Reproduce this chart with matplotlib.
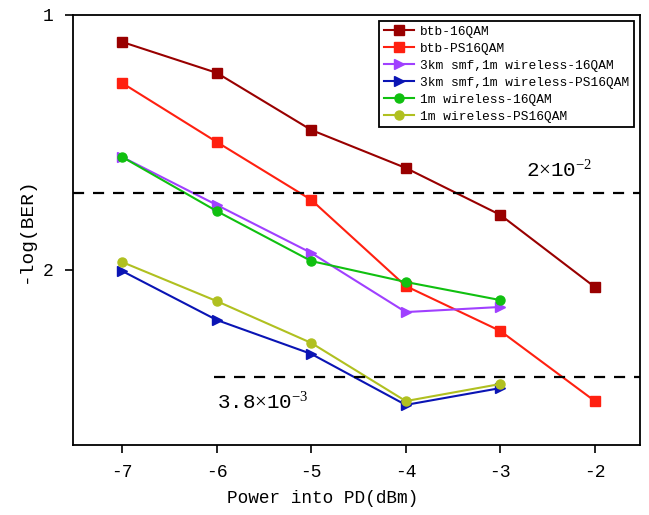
import matplotlib
matplotlib.use("Agg")
import matplotlib.pyplot as plt

plt.rcParams['font.family'] = ['Liberation Mono', 'DejaVu Sans Mono']
plt.rcParams['axes.unicode_minus'] = False
plt.rcParams['mathtext.fontset'] = 'custom'
plt.rcParams['mathtext.rm'] = 'Liberation Serif'
plt.rcParams['mathtext.it'] = 'Liberation Serif:italic'

x = [-7, -6, -5, -4, -3, -2]
x5 = [-7, -6, -5, -4, -3]
btb_16 = [1.106, 1.227, 1.451, 1.600, 1.784, 2.067]
btb_ps16 = [1.267, 1.498, 1.725, 2.063, 2.239, 2.514]
smf_16 = [1.557, 1.745, 1.933, 2.165, 2.145]
smf_ps16 = [2.004, 2.196, 2.329, 2.529, 2.463]
wl_16 = [1.557, 1.769, 1.965, 2.047, 2.118]
wl_ps16 = [1.969, 2.122, 2.286, 2.514, 2.447]

labels = ['btb-16QAM', 'btb-PS16QAM', '3km smf,1m wireless-16QAM',
          '3km smf,1m wireless-PS16QAM', '1m wireless-16QAM', '1m wireless-PS16QAM']
thr_high = 1.699  # 2e-2
thr_low = 2.42    # 3.8e-3

fig = plt.figure(figsize=(6.49, 5.15), dpi=100)
ax = fig.add_axes([0.1125, 0.136, 0.874, 0.835])

ax.plot(x, btb_16, color='#990000', marker='s', ms=6.5, lw=1.5, label=labels[0])
ax.plot(x, btb_ps16, color='#ff2010', marker='s', ms=6.5, lw=1.5, label=labels[1])
ax.plot(x5, smf_16, color='#a040ff', marker='>', ms=7.5, lw=1.5, label=labels[2])
ax.plot(x5, smf_ps16, color='#0a14b4', marker='>', ms=7.5, lw=1.5, label=labels[3])
ax.plot(x5, wl_16, color='#10c010', marker='o', ms=6.5, lw=1.5, label=labels[4])
ax.plot(x5, wl_ps16, color='#b0c020', marker='o', ms=6.5, lw=1.5, label=labels[5])

ax.axhline(thr_high, color='black', ls=(0, (5, 4)), lw=1.6)
ax.plot([-6.03, -1.52], [thr_low, thr_low], color='black', ls=(0, (5, 4)), lw=1.6)
ax.text(-2.73, thr_high - 0.09, r'2$\times$10$^{-2}$', fontsize=15, ha='left', va='center')
ax.text(-6.0, thr_low + 0.1, r'3.8$\times$10$^{-3}$', fontsize=15, ha='left', va='center')

ax.set_xlim(-7.52, -1.52)
ax.set_ylim(2.686, 1.0)
ax.set_xticks([-7, -6, -5, -4, -3, -2])
ax.set_yticks([1, 2])
ax.tick_params(direction='out', length=6, width=1.2, labelsize=13, pad=8)
for s in ax.spines.values():
    s.set_linewidth(1.3)
ax.set_xlabel('Power into PD(dBm)', fontsize=12.8, labelpad=4)
ax.xaxis.set_label_coords(0.44, -0.105)
ax.set_ylabel('-log(BER)', fontsize=14, labelpad=6)

leg = ax.legend(loc='upper right', fontsize=9.3, frameon=True, fancybox=False,
                edgecolor='black', framealpha=1, borderpad=0.35, labelspacing=0.38,
                handlelength=2.3, handletextpad=0.5, borderaxespad=0.5)
leg.get_frame().set_linewidth(1.3)

fig.savefig('out.png', dpi=100)
